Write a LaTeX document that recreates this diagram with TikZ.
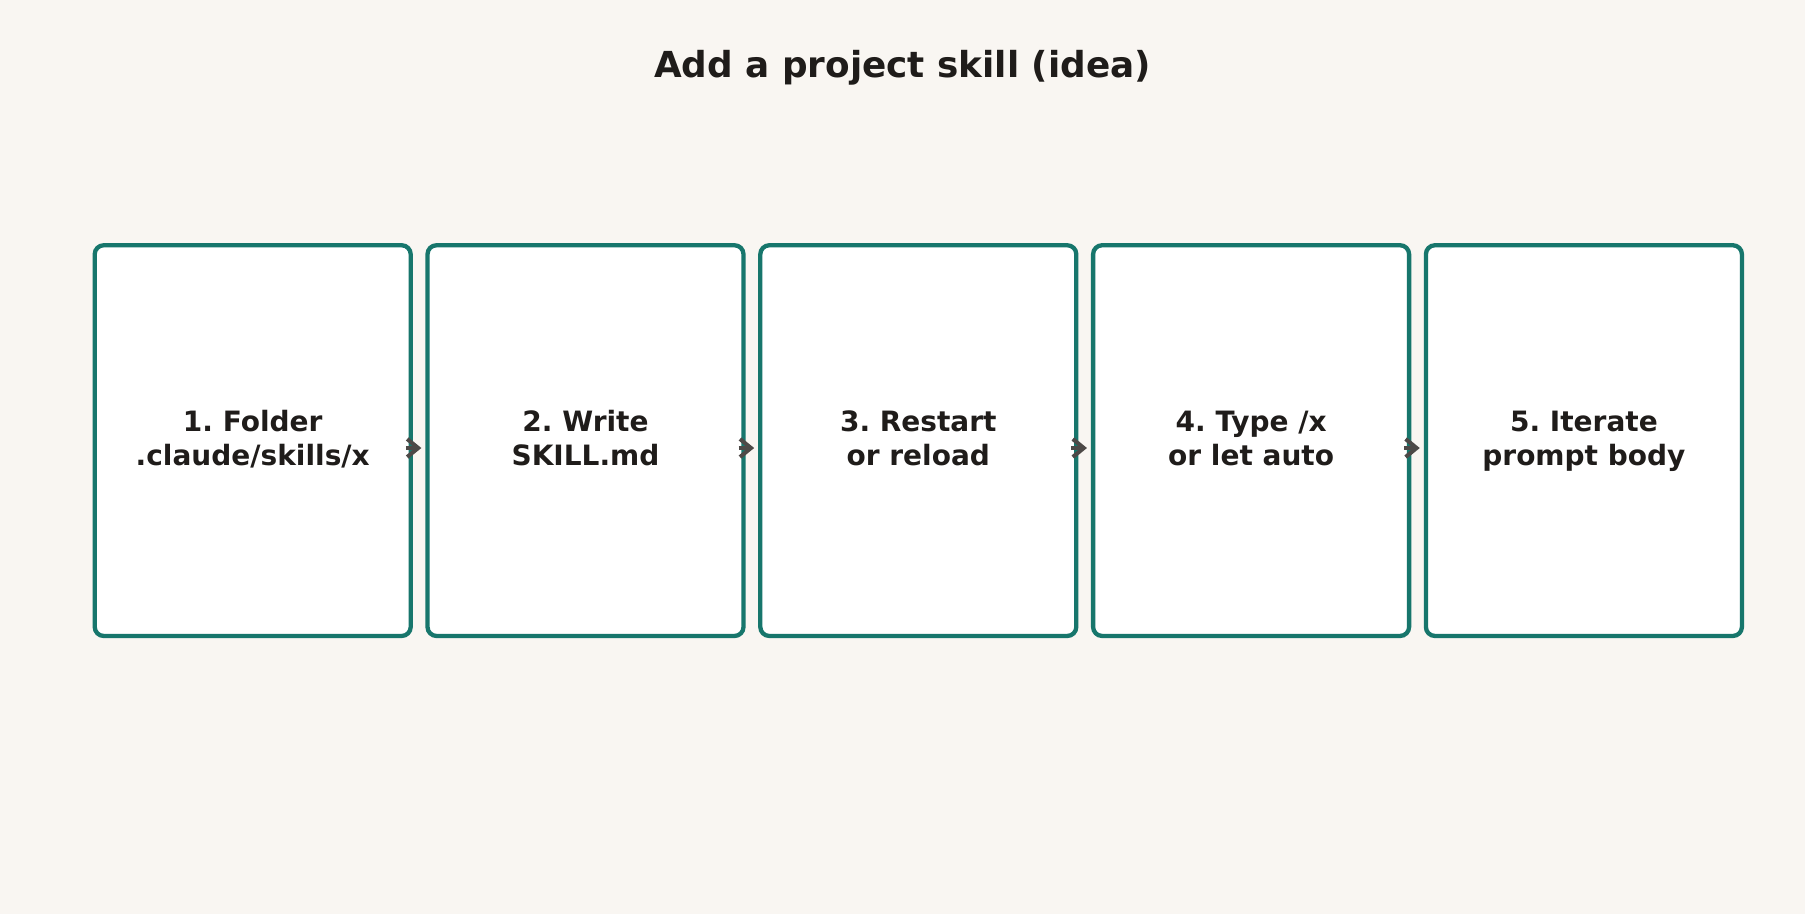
\documentclass[tikz,border=0pt]{standalone}
\usepackage{fontspec}
\setmainfont{DejaVu Sans}
\usetikzlibrary{arrows.meta,positioning}
\definecolor{bgcream}{HTML}{F9F6F2}
\definecolor{tealedge}{HTML}{17766C}
\definecolor{inkdark}{HTML}{1F1C1A}
\definecolor{arrowgray}{HTML}{4D4947}
\frenchspacing

\begin{document}
\begin{tikzpicture}[x=1pt,y=1pt,
    stepbox/.style={draw=tealedge,line width=4.3pt,fill=white,rounded corners=9pt,
      minimum width=316pt,minimum height=390.7pt,inner sep=0pt,align=center,
      text height=58.6pt,text depth=9.6pt,
      font=\bfseries\fontsize{28}{33.6}\selectfont,text=inkdark},
    flow/.style={draw=arrowgray,line width=4pt,-{Straight Barb[length=11pt,width=18pt]}}]
          \fill[bgcream] (0,0) rectangle (1805,-914);
          \useasboundingbox (0,0) rectangle (1805,-914);
          \node[font=\bfseries\fontsize{35.8}{43}\selectfont,text=inkdark] (title) at (902.5,-68) {Add a project skill (idea)};
          \foreach \i/\txt in {1/{1. Folder\\.claude/skills/x},2/{2. Write\\SKILL.md},3/{3. Restart\\or reload},4/{4. Type /x\\or let auto},5/{5. Iterate\\prompt body}}
            \node[stepbox] (s\i) at ({252.7+(\i-1)*332.8},-440.6) {\txt};
          \foreach \i/\j in {1/2,2/3,3/4,4/5}
            \draw[flow] ([xshift=-7pt,yshift=-7.4pt]s\i.east)--([xshift=-4pt,yshift=-7.4pt]s\j.west);
        \end{tikzpicture}
\end{document}
